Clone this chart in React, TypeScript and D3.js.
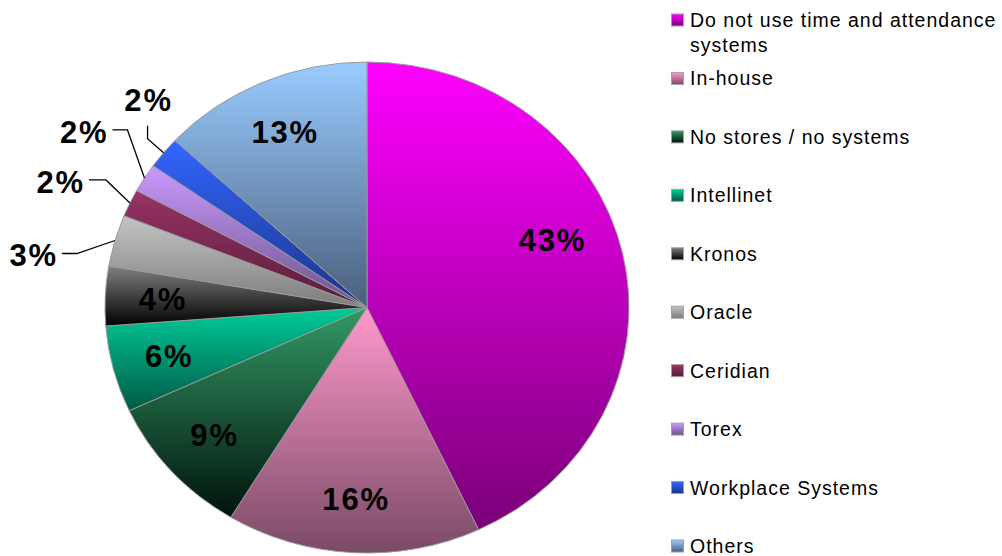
import * as d3 from 'd3';

// slice order: clockwise from 12 o'clock
const categories = [
  'Do not use time and attendance systems',
  'In-house',
  'No stores / no systems',
  'Intellinet',
  'Kronos',
  'Oracle',
  'Ceridian',
  'Torex',
  'Workplace Systems',
  'Others',
];
const shares = [43.0, 15.7, 9.4, 5.7, 3.9, 3.4, 1.8, 1.9, 2.1, 13.1];

// gradient top -> bottom
const topColors = ['#ff00ff', '#ff99cc', '#339966', '#00cc99', '#808080', '#c4c4c4', '#993366', '#cc99ff', '#3366ff', '#99ccff'];
const bottomColors = ['#7a0078', '#7a4a66', '#00120a', '#005a44', '#000000', '#7c7c7c', '#561d3a', '#6a5488', '#1a3488', '#4a5e7c'];

// labels that Excel pushed outside the pie, with leader line offsets from the rim
const outsideLabels: Record<string, { elbow: [number, number]; end: [number, number]; anchor: string }> = {
  Oracle: { elbow: [-38, 13], end: [-53, 13], anchor: 'end' },
  Ceridian: { elbow: [-24, -23], end: [-41, -23], anchor: 'end' },
  Torex: { elbow: [-17, -48], end: [-32, -48], anchor: 'end' },
  'Workplace Systems': { elbow: [-16, -14], end: [-16, -27], anchor: 'middle' },
};

// manual nudge for the big slice label
const labelNudge: Record<string, [number, number]> = {
  'Do not use time and attendance systems': [-14, -26],
};

const W = 1002;
const H = 556;
const cx = 367;
const cy = 307.5;
const rx = 262;
const ry = 245.5;

const fmt = d3.format('.0%');

function wrap(text: string, maxChars: number) {
  const words = text.split(' ');
  const lines: string[] = [];
  let cur = '';
  words.forEach((w) => {
    const next = cur ? cur + ' ' + w : w;
    if (next.length > maxChars && cur) {
      lines.push(cur);
      cur = w;
    } else {
      cur = next;
    }
  });
  if (cur) lines.push(cur);
  return lines;
}

export default function App() {
  const total = d3.sum(shares);
  const pie = d3
    .pie<number>()
    .sort(null)
    .value((d) => d);
  const arcs = pie(shares);
  const arc = d3.arc<d3.PieArcDatum<number>>().innerRadius(0).outerRadius(rx);

  const rim = (a: number, k = 1) => [cx + rx * k * Math.sin(a), cy - ry * k * Math.cos(a)];

  const legendY = d3
    .scalePoint<string>()
    .domain(categories)
    .range([20, 546]);

  const font = '"Liberation Sans", Arial, sans-serif';

  return (
    <svg
      width={W}
      height={H}
      style={{ position: 'absolute', left: 0, top: 0, background: '#fff' }}
    >
      <defs>
        {categories.map((c, i) => (
          <linearGradient key={c} id={`g${i}`} x1="0" y1="0" x2="0" y2="1">
            <stop offset="0" stopColor={topColors[i]} />
            <stop offset="1" stopColor={bottomColors[i]} />
          </linearGradient>
        ))}
      </defs>

      <g transform={`translate(${cx},${cy}) scale(1,${ry / rx})`}>
        {arcs.map((a, i) => (
          <path
            key={categories[i]}
            d={arc(a) || ''}
            fill={`url(#g${i})`}
            stroke="#9a9a9a"
            strokeWidth={1}
          />
        ))}
      </g>

      {arcs.map((a, i) => {
        const name = categories[i];
        const mid = (a.startAngle + a.endAngle) / 2;
        const label = fmt(a.value / total);
        const out = outsideLabels[name];
        if (out) {
          const [ex, ey] = rim(mid);
          const bx = ex + out.elbow[0];
          const by = ey + out.elbow[1];
          const tx = ex + out.end[0];
          const ty = ey + out.end[1];
          const textX = out.anchor === 'end' ? tx - 4 : tx + 1;
          const textY = out.anchor === 'end' ? ty + 13 : ty - 15;
          return (
            <g key={name}>
              <polyline
                points={`${ex},${ey} ${bx},${by} ${tx},${ty}`}
                fill="none"
                stroke="#000"
                strokeWidth={1.3}
              />
              <text
                x={textX}
                y={textY}
                textAnchor={out.anchor}
                fontFamily={font}
                fontWeight="bold"
                fontSize={31}
                letterSpacing={1.8}
                fill="#000"
              >
                {label}
              </text>
            </g>
          );
        }
        const [lx, ly] = rim(mid, 0.78);
        const nudge = labelNudge[name] || [0, 0];
        return (
          <text
            key={name}
            x={lx + nudge[0]}
            y={ly + nudge[1]}
            dy="0.36em"
            textAnchor="middle"
            fontFamily={font}
            fontWeight="bold"
            fontSize={31}
            letterSpacing={1.8}
            fill="#000"
          >
            {label}
          </text>
        );
      })}

      <g fontFamily={font} fontSize={19.5} letterSpacing={1} fill="#000">
        {categories.map((c, i) => {
          const y = legendY(c) as number;
          const lines = wrap(c, 30);
          return (
            <g key={c}>
              <rect
                x={671.5}
                y={y - 6}
                width={12}
                height={12}
                fill={`url(#g${i})`}
                stroke="#a0a0a0"
                strokeWidth={1}
              />
              <text x={690} y={y}>
                {lines.map((l, k) => (
                  <tspan key={k} x={690} dy={k === 0 ? '0.36em' : 25}>
                    {l}
                  </tspan>
                ))}
              </text>
            </g>
          );
        })}
      </g>
    </svg>
  );
}
